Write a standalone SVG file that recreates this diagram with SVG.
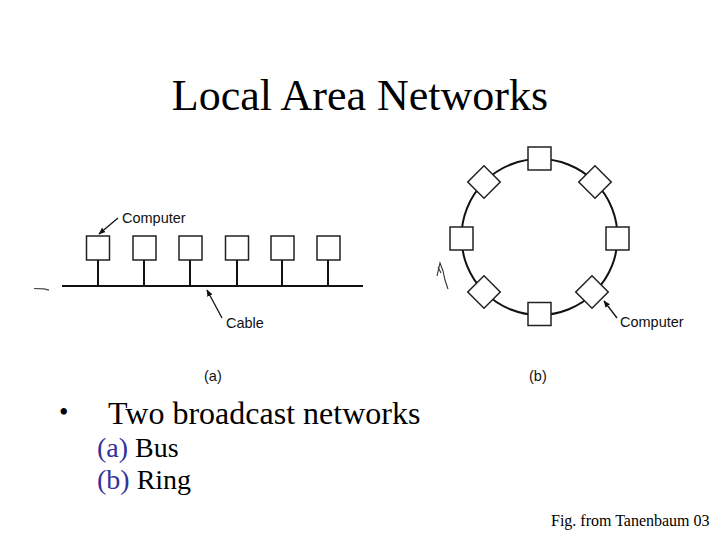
<svg xmlns="http://www.w3.org/2000/svg" width="720" height="540" viewBox="0 0 720 540">
<style>
.box{fill:#fff;stroke:#222;stroke-width:1.5}
.ln{stroke:#111;stroke-width:2;fill:none}
.st{stroke:#111;stroke-width:2}
.lbl{font-family:"Liberation Sans",Arial,sans-serif;font-size:14.5px;fill:#111}
.tm{font-family:"Liberation Serif","Times New Roman",serif;fill:#000}
.ar{stroke:#111;stroke-width:1.3;fill:none}
</style>
<defs>
<marker id="ah" viewBox="0 0 10 10" refX="9" refY="5" markerWidth="7" markerHeight="7" orient="auto" markerUnits="userSpaceOnUse">
<path d="M0,1 L10,5 L0,9 Z" fill="#111"/>
</marker>
</defs>
<rect width="720" height="540" fill="#fff"/>
<text class="tm" x="360" y="110" font-size="44" text-anchor="middle">Local Area Networks</text>

<g id="connectors">
<line class="ln" x1="62" y1="286" x2="363" y2="286"/>
<line class="st" x1="98" y1="260" x2="98" y2="286"/>
<line class="st" x1="144" y1="260" x2="144" y2="286"/>
<line class="st" x1="190" y1="260" x2="190" y2="286"/>
<line class="st" x1="237" y1="260" x2="237" y2="286"/>
<line class="st" x1="282" y1="260" x2="282" y2="286"/>
<line class="st" x1="328" y1="260" x2="328" y2="286"/>
<circle class="ln" cx="539.5" cy="237" r="78"/>
<line class="ar" x1="118" y1="218" x2="99" y2="234" marker-end="url(#ah)"/>
<line class="ar" x1="222" y1="318" x2="207" y2="290" marker-end="url(#ah)"/>
<line class="ar" x1="617" y1="318" x2="604" y2="301" marker-end="url(#ah)"/>
<path d="M34,288.5 L44,288.8 L49,290.2" stroke="#444" stroke-width="1.2" fill="none"/>
<path d="M437,276 L440,263 L443,271 L445,280 L448,289 M438,267 L441,273" stroke="#333" stroke-width="1.1" fill="none"/>
</g>

<g id="bus-computers">
<rect class="box" x="86.5" y="236" width="23" height="24"/>
<rect class="box" x="133" y="236" width="23" height="24"/>
<rect class="box" x="179" y="236" width="23" height="24"/>
<rect class="box" x="225.5" y="236" width="23" height="24"/>
<rect class="box" x="271" y="236" width="23" height="24"/>
<rect class="box" x="317" y="236" width="23" height="24"/>
</g>

<g id="ring-computers">
<rect class="box" x="528" y="147" width="23" height="23"/>
<rect class="box" x="528" y="302.5" width="23" height="23"/>
<rect class="box" x="450" y="227" width="23" height="23"/>
<rect class="box" x="606" y="227" width="23" height="23"/>
<rect class="box" x="-11.5" y="-11.5" width="23" height="23" transform="translate(484,182) rotate(45)"/>
<rect class="box" x="-11.5" y="-11.5" width="23" height="23" transform="translate(595,182) rotate(45)"/>
<rect class="box" x="-11.5" y="-11.5" width="23" height="23" transform="translate(484,292) rotate(45)"/>
<rect class="box" x="-11.5" y="-11.5" width="23" height="23" transform="translate(592,292) rotate(45)"/>
</g>

<g id="labels">
<text class="lbl" x="122" y="223">Computer</text>
<text class="lbl" x="226" y="328">Cable</text>
<text class="lbl" x="620" y="327">Computer</text>
<text class="lbl" x="204" y="381" font-size="13.5">(a)</text>
<text class="lbl" x="529" y="381" font-size="13.5">(b)</text>
</g>

<g id="text">
<text class="tm" x="59" y="421" font-size="27">•</text>
<text class="tm" x="108" y="424" font-size="32">Two broadcast networks</text>
<text class="tm" x="97" y="457" font-size="28"><tspan fill="#333399">(a)</tspan> Bus</text>
<text class="tm" x="97" y="489" font-size="28"><tspan fill="#333399">(b)</tspan> Ring</text>
<text class="tm" x="551" y="526" font-size="16">Fig. from Tanenbaum 03</text>
</g>
</svg>
